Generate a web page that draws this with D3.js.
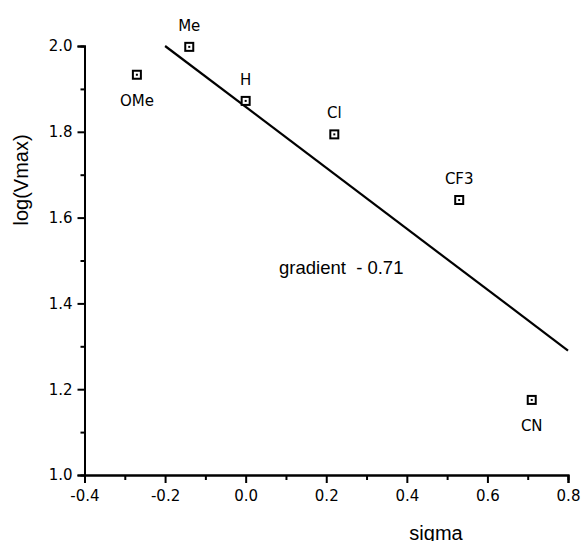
<!DOCTYPE html>
<html>
<head>
<meta charset="utf-8">
<script src="https://cdn.jsdelivr.net/npm/d3@7"></script>
<style>
  body { margin: 0; background: #fff; }
  svg text { fill: #000; }
</style>
</head>
<body>
<div id="chart-area"></div>
<script>
var substituents = ['OMe', 'Me', 'H', 'Cl', 'CF3', 'CN']
var sigmaValues = [-0.27, -0.14, 0.0, 0.22, 0.53, 0.71]
var logVmax = [1.933, 1.998, 1.872, 1.794, 1.641, 1.175]
var labelAbove = [false, true, true, true, true, false]
var fitX = [-0.2, 0.8]
var fitY = [2.0, 1.29]
var xTicks = [-0.4, -0.2, 0.0, 0.2, 0.4, 0.6, 0.8]
var yTicks = [1.0, 1.2, 1.4, 1.6, 1.8, 2.0]

var margin = { left: 84.5, right: 15, top: 46, bottom: 66 }
var ab_width = 583
var ab_height = 541

var svg = d3.select('#chart-area')
  .append('svg')
  .attr('width', ab_width)
  .attr('height', ab_height)

var g = svg.append('g')
  .attr('transform', 'translate(' + margin.left + ', ' + margin.top + ')')

var x = d3.scaleLinear().domain([-0.4, 0.8]).range([0, 483.5])
var y = d3.scaleLinear().domain([1.0, 2.0]).range([429, 0])

var data = substituents.map(function(d, i) {
  return { name: d, x: sigmaValues[i], y: logVmax[i], above: labelAbove[i] }
})

// plain hyphen like the original, not the unicode minus
var fmt = function(d) { return d3.format('.1f')(d).replace('\u2212', '-') }

// minor ticks first, then majors on top
var xMinor = d3.range(-0.3, 0.8, 0.2)
var yMinor = d3.range(1.1, 2.0, 0.2)

var xAxisG = g.append('g').attr('transform', 'translate(0,' + y(1.0) + ')')
xAxisG.call(d3.axisBottom(x).tickValues(xMinor).tickSize(5).tickFormat(''))
xAxisG.append('g').call(d3.axisBottom(x).tickValues(xTicks).tickSize(8).tickPadding(7)
  .tickFormat(fmt))

var yAxisG = g.append('g')
yAxisG.call(d3.axisLeft(y).tickValues(yMinor).tickSize(4).tickFormat(''))
yAxisG.append('g').call(d3.axisLeft(y).tickValues(yTicks).tickSize(7).tickPadding(5)
  .tickFormat(fmt))

g.selectAll('.domain').attr('stroke', '#000').attr('stroke-width', 2)
g.selectAll('.tick line').attr('stroke', '#000').attr('stroke-width', 2)
g.selectAll('.tick text')
  .style('font-family', '"DejaVu Sans", sans-serif')
  .style('font-size', '15px')
  .attr('fill', '#000')

// regression line
g.append('line')
  .attr('x1', x(fitX[0])).attr('y1', y(fitY[0]))
  .attr('x2', x(fitX[1])).attr('y2', y(fitY[1]))
  .attr('stroke', '#000')
  .attr('stroke-width', 2.2)

// markers
var pts = g.selectAll('.pt').data(data).enter().append('g')
  .attr('class', 'pt')
  .attr('transform', function(d) { return 'translate(' + x(d.x) + ',' + y(d.y) + ')' })

pts.append('rect')
  .attr('x', -4).attr('y', -4).attr('width', 8).attr('height', 8)
  .attr('fill', '#fff').attr('stroke', '#000').attr('stroke-width', 2)
pts.append('rect')
  .attr('x', -1).attr('y', -1).attr('width', 2).attr('height', 2)
  .attr('fill', '#000')

pts.append('text')
  .attr('text-anchor', 'middle')
  .attr('y', function(d) { return d.above ? -16 : 31 })
  .style('font-family', '"DejaVu Sans", sans-serif')
  .style('font-size', '15px')
  .text(function(d) { return d.name })

// annotation
g.append('text')
  .attr('x', 279 - margin.left)
  .attr('y', 274 - margin.top)
  .style('font-family', '"Liberation Sans", Arial, sans-serif')
  .style('font-size', '18.5px')
  .style('white-space', 'pre')
  .text('gradient  - 0.71')

svg.append('text')
  .attr('x', 436)
  .attr('y', 540)
  .attr('text-anchor', 'middle')
  .style('font-family', '"Liberation Sans", Arial, sans-serif')
  .style('font-size', '20px')
  .text('sigma')

svg.append('text')
  .attr('transform', 'translate(28,180) rotate(-90)')
  .attr('text-anchor', 'middle')
  .style('font-family', '"Liberation Sans", Arial, sans-serif')
  .style('font-size', '20px')
  .text('log(Vmax)')
</script>
</body>
</html>
